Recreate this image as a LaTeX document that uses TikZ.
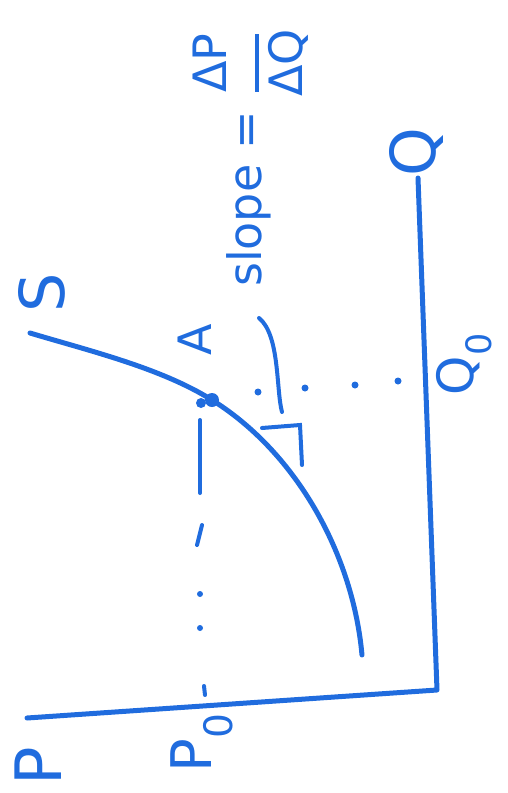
\documentclass[tikz,border=0pt]{standalone}
\usepackage{fontspec}
\setmainfont{DejaVu Sans}
\definecolor{pen}{RGB}{32,108,222}
\tikzset{pencurve/.style={draw=pen,line width=5pt,line cap=round,line join=round},
  guide/.style={draw=pen,line width=4pt,line cap=round},
  penlabel/.style={text=pen,rotate=90,inner sep=0pt}}
\newcommand{\penfont}[1]{\fontsize{#1}{#1}\selectfont}

\begin{document}
\begin{tikzpicture}[x=1pt,y=-1pt]
\useasboundingbox (0,0) rectangle (508,793);
% axes
\coordinate (pend) at (27,718);
\coordinate (origin) at (437,690);
\coordinate (qtop) at (418,178);
\draw[pencurve] (pend) -- (origin) -- (qtop);
% supply curve
\coordinate (sbeg) at (30,333);
\coordinate (A) at (212,400);
\coordinate (send) at (362,655);
\draw[pencurve] (sbeg) .. controls (90,351) and (161,368) .. (A)
  .. controls (297,453) and (353,555) .. (send);
\fill[pen] (A) circle[radius=7pt];
\fill[pen] (201,403) circle[radius=5pt];
% tangent and slope triangle
\coordinate (tbeg) at (259,318);
\coordinate (tend) at (282,412);
\draw[guide] (tbeg) .. controls (280,335) and (276,390) .. (tend);
\coordinate (tri1) at (262,428);
\coordinate (tri2) at (300,425);
\coordinate (tri3) at (302,465);
\draw[guide] (tri1) -- (tri2) -- (tri3);
% dotted guides from A
\foreach \x/\y in {258/392,305/388,355/385,398/381}
  \fill[pen] (\x,\y) circle[radius=3.5pt];
\draw[guide] (200,420) -- (200,493);
\draw[guide] (202,525) -- (197,545);
\foreach \y in {594,628}
  \fill[pen] (200,\y) circle[radius=3pt];
\draw[guide] (204,686) -- (205,695);
% labels
\node[penlabel,font=\penfont{62}] (S) at (42,293) {S};
\node[penlabel,font=\penfont{46}] (Alab) at (195,340) {A};
\node[penlabel,font=\penfont{64}] (P) at (38,766) {P};
\node[penlabel,font=\penfont{56}] (P0) at (202,743) {P\textsubscript{0}};
\node[penlabel,font=\penfont{62}] (Q) at (416,152) {Q};
\node[penlabel,font=\penfont{50}] (Q0) at (464,364) {Q\textsubscript{0}};
\node[penlabel,font=\penfont{46}] (slope) at (255,158)
  {slope = \begin{tabular}{@{}c@{}}ΔP\\[-14pt]\rule{58pt}{4pt}\\[-4pt]ΔQ\end{tabular}};
\end{tikzpicture}
\end{document}
